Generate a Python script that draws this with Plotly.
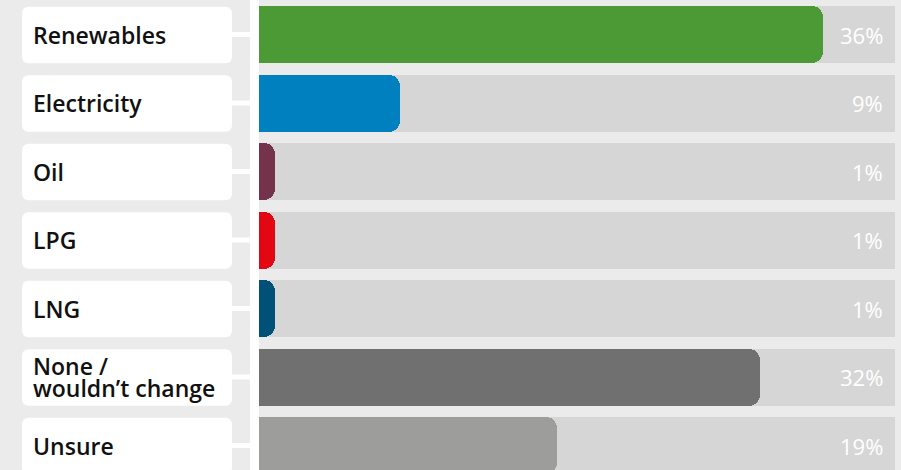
import plotly.graph_objects as go

categories = ["Renewables", "Electricity", "Oil", "LPG", "LNG", "None / wouldn’t change", "Unsure"]
label_lines = [["Renewables"], ["Electricity"], ["Oil"], ["LPG"], ["LNG"], ["None /", "wouldn’t change"], ["Unsure"]]
values = [36, 9, 1, 1, 1, 32, 19]
value_labels = ["36%", "9%", "1%", "1%", "1%", "32%", "19%"]
colors = ["#4b9a35", "#0080be", "#74324b", "#e30613", "#005078", "#707070", "#9d9d9c"]
track_max = 40.6

W, H = 901, 470
PITCH = 68.5
bar_w = 57 / PITCH

fig = go.Figure()
fig.add_trace(go.Bar(
    y=categories, x=[track_max] * len(categories), orientation="h", yaxis="y",
    marker=dict(color="#d6d6d6", line=dict(width=0)),
    width=bar_w, hoverinfo="skip", showlegend=False))
fig.add_trace(go.Bar(
    y=categories, x=values, orientation="h", yaxis="y2",
    marker=dict(color=colors, line=dict(width=0), cornerradius=11),
    width=bar_w, showlegend=False,
    hovertemplate="%{y}: %{x}%<extra></extra>"))

top_idx = -34.5 / PITCH
bot_idx = (H - 34.5) / PITCH

shapes = []
annotations = []
shapes.append(dict(type="rect", xref="paper", yref="paper", x0=250 / W, x1=259 / W, y0=0, y1=1,
                   fillcolor="white", line=dict(width=0), layer="below"))
x0, x1 = 22 / W, 232 / W
rx, ry = 7 / W, 7 / PITCH
half = 28.2 / PITCH
for i, cat in enumerate(categories):
    yc = i + 0.5 / PITCH
    y0, y1 = yc - half, yc + half
    path = (f"M {x0+rx},{y0} L {x1-rx},{y0} Q {x1},{y0} {x1},{y0+ry} "
            f"L {x1},{y1-ry} Q {x1},{y1} {x1-rx},{y1} L {x0+rx},{y1} "
            f"Q {x0},{y1} {x0},{y1-ry} L {x0},{y0+ry} Q {x0},{y0} {x0+rx},{y0} Z")
    shapes.append(dict(type="path", path=path, xref="paper", yref="y",
                       fillcolor="white", line=dict(width=0), layer="below"))
    shapes.append(dict(type="rect", xref="paper", yref="y", x0=231 / W, x1=251 / W,
                       y0=i - 2.5 / PITCH, y1=i + 2.5 / PITCH,
                       fillcolor="white", line=dict(width=0), layer="below"))
    lines = label_lines[i]
    n = len(lines)
    for k, txt in enumerate(lines):
        shift = ((n - 1) / 2 - k) * 21.5
        annotations.append(dict(
            text=txt, xref="paper", yref="y", x=31 / W, y=cat, xanchor="left", yanchor="middle",
            yshift=shift, showarrow=False,
            font=dict(family="Open Sans", size=23, color="#111111", weight=600)))
    annotations.append(dict(
        text=value_labels[i], xref="paper", yref="y", x=885 / W, y=cat, xanchor="right",
        yanchor="middle", yshift=0, showarrow=False,
        font=dict(family="Open Sans", size=22, color="white", weight=400)))

yax = dict(type="category", categoryorder="array", categoryarray=categories,
           range=[bot_idx, top_idx], autorange=False, visible=False, fixedrange=True)
fig.update_layout(
    width=W, height=H, margin=dict(l=0, r=0, t=0, b=0),
    paper_bgcolor="#ebebeb", plot_bgcolor="#ebebeb",
    barmode="group", bargap=0,
    xaxis=dict(domain=[259 / W, 895 / W], range=[0, track_max], visible=False, fixedrange=True),
    yaxis=yax,
    yaxis2=dict(yax, overlaying="y"),
    shapes=shapes, annotations=annotations, showlegend=False,
)
fig.write_html("out.html", config={"displayModeBar": False},
               post_script="document.body.style.margin='0';document.body.style.padding='0';")
